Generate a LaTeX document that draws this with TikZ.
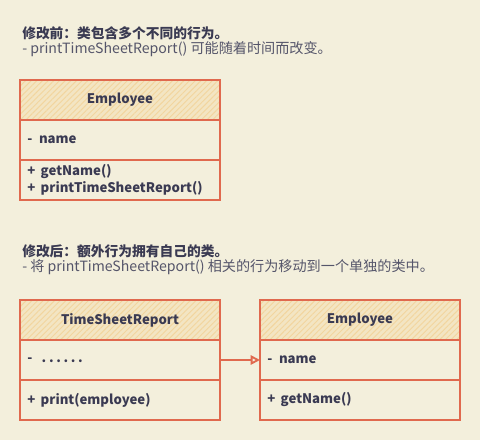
\documentclass[tikz,border=0pt]{standalone}
\usepackage{fontspec}
\setmainfont{Noto Sans CJK SC}
\usetikzlibrary{positioning,patterns.meta,arrows.meta}

\definecolor{paper}{HTML}{F3EFDC}
\definecolor{redline}{HTML}{E0694E}
\definecolor{hatch}{HTML}{F2D59E}
\definecolor{ink}{HTML}{3A3A52}
\definecolor{inkgrey}{HTML}{55556A}

\tikzset{
    part/.style={draw=redline, line width=0.9pt, outer sep=0pt, inner sep=0pt,
        minimum width=150pt, minimum height=30pt, text=ink,
        font=\fontsize{9.9}{12.5}\selectfont\bfseries},
    headpart/.style={part, align=center, text width=150pt,
        preaction={fill=paper!60!hatch},
        pattern={Lines[angle=45,distance=3pt,line width=0.7pt]}, pattern color=hatch},
    bodypart/.style={part, align=left, text width=139pt},
    note/.style={anchor=west, inner sep=0pt, text=inkgrey, font=\fontsize{10.6}{12}\selectfont},
    notehead/.style={note, text=ink, font=\fontsize{10.3}{12}\selectfont\bfseries},
    uses/.style={draw=redline, line width=1.4pt, -{Triangle[open, length=7pt, width=7pt]}},
}

\begin{document}
\begin{tikzpicture}[x=0.75pt, y=-0.75pt]

    \fill[paper] (0,0) rectangle (480,440);
    \useasboundingbox (0,0) rectangle (480,440);

    % before
    \node[notehead] (beforeTitle) at (22,33) {修改前：类包含多个不同的行为。};
    \node[note] (beforeNote) at (22,49) {- printTimeSheetReport() 可能随着时间而改变。};

    \node[headpart] (oldEmp) at (120,100) {Employee};
    \node[bodypart, below=0pt of oldEmp] (oldEmpAttr) {-\hspace{5pt}name};
    \node[bodypart, below=0pt of oldEmpAttr] (oldEmpOps) {+\hspace{4pt}getName()\\+\hspace{4pt}printTimeSheetReport()};

    % after
    \node[notehead] (afterTitle) at (22,251) {修改后：额外行为拥有自己的类。};
    \node[note] (afterNote) at (22,267) {- 将 printTimeSheetReport() 相关的行为移动到一个单独的类中。};

    \node[headpart] (report) at (120,320) {TimeSheetReport};
    \node[bodypart, below=0pt of report] (reportAttr) {-\hspace{7pt}.\hspace{2pt}.\hspace{2pt}.\hspace{2pt}.\hspace{2pt}.\hspace{2pt}.};
    \node[bodypart, below=0pt of reportAttr] (reportOps) {+\hspace{4pt}print(employee)};

    \node[headpart] (newEmp) at (360,320) {Employee};
    \node[bodypart, below=0pt of newEmp] (newEmpAttr) {-\hspace{5pt}name};
    \node[bodypart, below=0pt of newEmpAttr] (newEmpOps) {+\hspace{4pt}getName()};

    \draw[uses] (reportAttr.east) -- (newEmpAttr.west);

\end{tikzpicture}
\end{document}
